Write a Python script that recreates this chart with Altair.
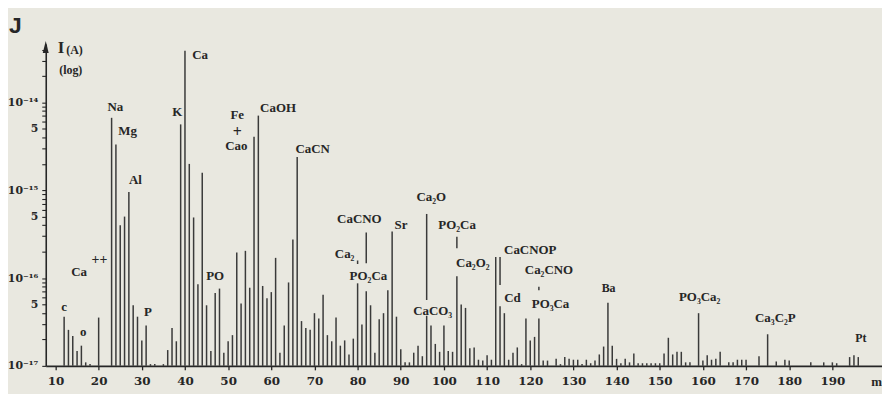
import altair as alt
import pandas as pd

# ---- data (mass, log10 of ion current in A) ----
masses = [12, 13, 14, 15, 16, 17, 18, 20, 23, 24, 25, 26, 27, 28, 29, 30, 31, 32, 33, 35,
          36, 37, 38, 39, 40, 41, 42, 43, 44, 45, 46, 47, 48, 49, 50, 51, 52, 53, 54, 55,
          56, 57, 58, 59, 60, 61, 62, 63, 64, 65, 66, 67, 68, 69, 70, 71, 72, 73, 74, 75,
          76, 77, 78, 79, 80, 81, 82, 83, 84, 85, 86, 87, 88, 89, 90, 91, 92, 93, 94, 95,
          96, 97, 98, 99, 100, 101, 102, 103, 104, 105, 106, 107, 108, 109, 110, 111, 112,
          113, 114, 115, 116, 117, 118, 119, 120, 121, 122, 123, 124, 126, 127, 128, 129,
          130, 131, 132, 133, 134, 135, 136, 137, 138, 139, 140, 141, 142, 143, 144, 145,
          146, 147, 148, 149, 150, 151, 152, 153, 154, 155, 156, 157, 159, 160, 161, 162,
          163, 164, 166, 167, 168, 169, 170, 173, 175, 177, 179, 180, 185, 188, 190, 191,
          194, 195, 196]
log_i = [-16.44, -16.59, -16.66, -16.83, -16.77, -16.96, -16.98, -16.45, -14.175, -14.48,
         -15.40, -15.30, -15.02, -16.31, -16.44, -16.71, -16.54, -16.98, -16.98, -16.98,
         -16.82, -16.57, -16.72, -14.25, -13.41, -14.70, -15.31, -16.07, -14.80, -16.31,
         -16.83, -16.17, -16.12, -16.85, -16.72, -16.65, -15.71, -16.29, -15.69, -16.11,
         -14.39, -14.15, -16.09, -16.23, -16.16, -15.77, -16.85, -16.54, -16.05, -15.56,
         -14.62, -16.49, -16.57, -16.59, -16.40, -16.46, -16.19, -16.65, -16.72, -16.45,
         -16.77, -16.71, -16.87, -16.69, -16.06, -16.53, -16.15, -16.31, -16.85, -16.47,
         -16.40, -16.14, -15.47, -16.44, -16.81, -16.96, -16.96, -16.85, -16.77, -16.89,
         -16.43, -16.54, -16.75, -16.84, -16.54, -16.83, -16.84, -15.98, -16.30, -16.34,
         -16.80, -16.79, -16.93, -16.94, -16.88, -16.93, -15.76,
         -16.32, -16.40, -16.93, -16.85, -16.79, -16.98, -16.46, -16.71, -16.67, -16.46,
         -16.94, -16.94, -16.92, -16.98, -16.90, -16.92,
         -16.93, -16.93, -16.98, -16.93, -16.97, -16.94, -16.87, -16.78, -16.28, -16.77,
         -16.92, -16.97, -16.92, -16.96, -16.86, -16.97,
         -16.97, -16.97, -16.97, -16.97, -16.97, -16.86, -16.68, -16.87, -16.84, -16.84,
         -16.96, -16.96, -16.40, -16.94, -16.88, -16.93,
         -16.92, -16.84, -16.96, -16.96, -16.93, -16.93, -16.93, -16.89, -16.64, -16.95,
         -16.93, -16.94, -16.96, -16.96, -16.96, -16.97,
         -16.90, -16.88, -16.90]

# upper parts of peaks whose bar is interrupted by a label
seg_mass = [80, 82, 96, 103, 113, 122]
seg_top = [-15.80, -15.48, -15.27, -15.53, -15.76, -16.10]
seg_bottom = [-15.84, -15.83, -16.25, -15.66, -16.08, -16.14]

label_text = ["c", "Ca", "++", "o", "P", "Na", "Mg", "Al", "K", "Ca", "Fe", "+", "Cao",
              "CaOH", "CaCN", "PO", "CaCNO", "Ca₂", "PO₂Ca", "Sr", "Ca₂O", "PO₂Ca",
              "Ca₂O₂", "CaCO₃", "CaCNOP", "Ca₂CNO", "Cd", "PO₃Ca", "Ba", "PO₃Ca₂",
              "Ca₃C₂P", "Pt"]
label_mass = [12.0, 15.45, 20.2, 16.45, 31.4, 23.86, 26.7, 28.5, 38.2, 43.5, 52.1, 52.1,
              51.9, 61.56, 69.6, 47.0, 80.4, 77.0, 82.5, 90.05, 97.06, 103.05, 106.7,
              97.4, 120.0, 124.34, 115.9, 124.7, 138.15, 159.26, 176.8, 196.6]
label_log = [-16.33, -15.93, -15.80, -16.61, -16.39, -14.05, -14.33, -14.885, -14.104,
             -13.457, -14.149, -14.338, -14.502, -14.065, -14.526, -15.973, -15.331,
             -15.73, -15.98, -15.397, -15.073, -15.397, -15.827, -16.374, -15.68, -15.903,
             -16.233, -16.299, -16.109, -16.216, -16.46, -16.678]
label_size = [13, 13, 14, 13, 13, 13, 13, 13, 13, 13, 13, 16, 13,
              13, 13, 13, 13, 13, 13, 13, 13, 13,
              13, 13, 13, 13, 13, 13, 12, 13, 13, 12]

x_ticks = [10, 20, 30, 40, 50, 60, 70, 80, 90, 100, 110, 120, 130, 140, 150, 160, 170, 180, 190]
y_major = {1e-14: "10⁻¹⁴", 5e-15: "5", 1e-15: "10⁻¹⁵", 5e-16: "5",
           1e-16: "10⁻¹⁶", 5e-17: "5", 1e-17: "10⁻¹⁷"}

BASE = 1e-17
PAPER = "#E9E8E0"
INK = "#262626"
BAR = "#3a3a3a"

bars = pd.DataFrame({"m": masses, "I": [10 ** v for v in log_i], "I0": BASE})
segs = pd.DataFrame({"m": seg_mass, "I": [10 ** v for v in seg_top],
                     "I0": [10 ** v for v in seg_bottom]})
labels = pd.DataFrame({"m": label_mass, "I": [10 ** v for v in label_log],
                       "t": label_text, "s": label_size})

minor = []
for e in (-17, -16, -15, -14):
    for k in (2, 3, 4, 6, 7, 8, 9):
        v = k * 10.0 ** e
        if v < 4.6e-14:
            minor.append(v)
y_values = sorted(list(y_major.keys()) + minor)
label_expr = " : ".join(f"datum.value == {v!r} ? '{t}'" for v, t in y_major.items()) + " : ''"

xscale = alt.Scale(domain=[7.74, 201.5], nice=False, zero=False)
yscale = alt.Scale(type="log", domain=[1e-17, 4.62e-14], nice=False)

xaxis = alt.Axis(values=x_ticks, title=None, grid=False, tickSize=4, tickWidth=1.3,
                 tickColor=INK, domainColor=INK, domainWidth=1.6, labelFont="DejaVu Serif",
                 labelFontWeight="bold", labelFontSize=12, labelColor=INK, labelPadding=6)
yaxis = alt.Axis(values=y_values, labelExpr=label_expr, title=None, grid=False,
                 tickSize=4, tickWidth=1.1, tickColor=INK, domainColor=INK, domainWidth=1.6,
                 labelFont="DejaVu Serif", labelFontWeight="bold", labelFontSize=11,
                 labelColor=INK, labelPadding=4)

X = alt.X("m:Q", scale=xscale, axis=xaxis)
Y = alt.Y("I:Q", scale=yscale, axis=yaxis)

bar_layer = alt.Chart(bars).mark_rule(color=BAR, strokeWidth=1.5).encode(x=X, y=Y, y2="I0:Q")
seg_layer = alt.Chart(segs).mark_rule(color=BAR, strokeWidth=1.5).encode(x=X, y=Y, y2="I0:Q")
text_layer = alt.Chart(labels).mark_text(font="Liberation Serif", fontWeight="bold",
                                         color=INK, align="center", baseline="middle").encode(
    x=X, y=Y, text="t:N", size=alt.Size("s:Q", scale=None, legend=None))

one = pd.DataFrame({"k": [0]})


def deco(txt, px, py, size, font="Liberation Serif", weight="bold"):
    return alt.Chart(one).mark_text(font=font, fontWeight=weight, fontSize=size, color=INK,
                                    align="center", baseline="middle").encode(
        x=alt.value(px), y=alt.value(py), text=alt.value(txt))


arrow = alt.Chart(one).mark_point(shape="M0,-1L0.5,1L-0.5,1Z", filled=True, size=144,
                                  color=INK, opacity=1).encode(x=alt.value(0), y=alt.value(3))

chart = alt.layer(
    bar_layer, seg_layer, text_layer, arrow,
    deco("J", -30.7, -18.3, 23, font="Liberation Sans"),
    deco("I", 15.5, 3.5, 17),
    deco("(A)", 29, 5.5, 12),
    deco("(log)", 25.2, 25.7, 12),
    deco("m", 836.5, 340.5, 13),
).properties(
    width=842, height=324,
    autosize=alt.AutoSizeParams(type="none"),
    padding={"left": 38, "top": 35, "right": 0, "bottom": 27},
    background=PAPER,
).configure_view(stroke=None)

chart.save("out.html", embed_options={"renderer": "svg", "actions": False})
